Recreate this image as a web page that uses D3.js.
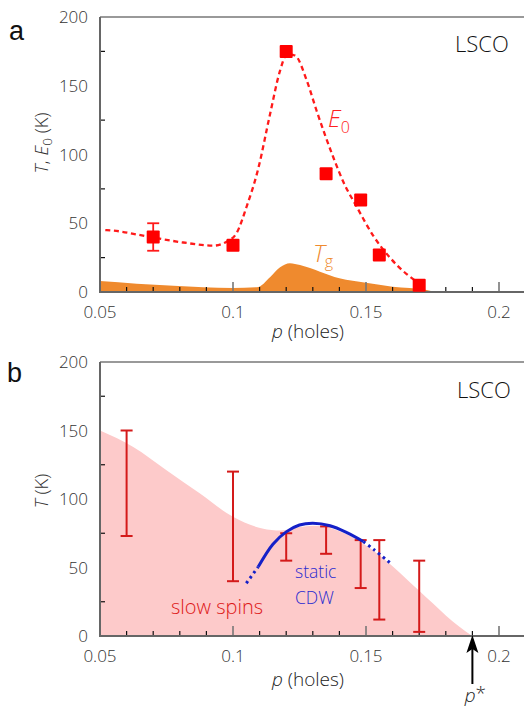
<!DOCTYPE html>
<html><head><meta charset="utf-8">
<script src="https://cdn.jsdelivr.net/npm/d3@7/dist/d3.min.js"></script>
<style>body{margin:0;background:#fff}svg{display:block}text{font-family:"Open Sans",sans-serif;font-weight:300}</style>
</head><body><svg id="c" width="524" height="707"></svg>
<script>
// ---- data ----
const xTicks = [0.05, 0.1, 0.15, 0.2];
const xMinor = [0.06,0.07,0.08,0.09,0.11,0.12,0.13,0.14,0.16,0.17,0.18,0.19];
const yTicks = [0, 50, 100, 150, 200];
const yMinor = [25, 75, 125, 175];

// panel a: E0 points
const e0P = [0.07, 0.10, 0.12, 0.135, 0.148, 0.155, 0.17];
const e0T = [40, 34, 175, 86, 67, 27, 5];
const e0ErrP = [0.07], e0ErrLo = [30], e0ErrHi = [50];
// E0 guide curve
const e0CurveP = [0.052,0.0551,0.0688,0.0813,0.0925,0.0976,0.1014,0.1051,0.1094,0.114,0.1177,0.1203,0.1233,0.1277,0.1314,0.1377,0.1415,0.1465,0.1527,0.159,0.1653,0.1703,0.172];
const e0CurveT = [45,44.6,40,36,33.7,36.6,43,62,89,130,161,173,172,154,132,98,80,62,41,25,13,6,4];
// Tg area
const tgP = [0.05,0.0776,0.1,0.109,0.114,0.1177,0.1214,0.1252,0.1327,0.14,0.15,0.16,0.1728,0.176];
const tgT = [8,4.5,3,3.4,11,18,21,19.6,14.8,10,6.8,3.9,1.5,0];

// panel b: slow spins error bars
const spinP = [0.06, 0.10, 0.12, 0.135, 0.148, 0.155, 0.17];
const spinLo = [73, 40, 55, 60, 35, 12, 3];
const spinHi = [150, 120, 75, 80, 70, 70, 55];
// pink region boundary
const pinkP = [0.05,0.0625,0.075,0.0876,0.1,0.111,0.118,0.125,0.13,0.135,0.14,0.145,0.15,0.155,0.16,0.165,0.17,0.175,0.18,0.185,0.19];
const pinkT = [150,138,121,104,87,78.5,77,79.5,80.5,79.5,76.5,72,66,59,51,42,33,24,15,7,0];
// static CDW curve
const cdwP = [0.105,0.1095,0.115,0.12,0.125,0.13,0.1365,0.1428,0.149,0.153,0.159];
const cdwT = [38.5,50.5,67,76,81,82.3,80.5,75.5,69,63,53.5];
const cdwSolid = [0.1095, 0.149];
const pStar = 0.19;

// ---- drawing ----
const svg = d3.select("#c");
const x = d3.scaleLinear().domain([0.05, 0.21]).range([100, 525.6]);

function panel(top, bottom) {
  const y = d3.scaleLinear().domain([0, 200]).range([bottom, top]);
  const g = svg.append("g");
  return {y, g};
}

function axes(P, labelDy) {
  const {y, g} = P;
  const y0 = y(0), yT = y(200);
  g.selectAll(".yl").data(yTicks).join("text")
    .attr("x", 88).attr("y", d => y(d)).attr("dy", "0.36em")
    .attr("text-anchor", "end").attr("font-size", 17).attr("fill", "#333").text(d => d);
  g.selectAll(".ym").data(yMinor).join("line")
    .attr("x1", 100).attr("x2", 105).attr("y1", d => y(d)).attr("y2", d => y(d))
    .attr("stroke", "#111").attr("stroke-width", 1.2);
  g.selectAll(".xm").data(xMinor).join("line")
    .attr("x1", d => x(d)).attr("x2", d => x(d)).attr("y1", y0).attr("y2", y0 - 5)
    .attr("stroke", "#111").attr("stroke-width", 1.2);
  g.selectAll(".xM").data(xTicks).join("line")
    .attr("x1", d => x(d)).attr("x2", d => x(d)).attr("y1", y0).attr("y2", y0 - 10)
    .attr("stroke", "#777").attr("stroke-width", 1.6);
  g.selectAll(".xl").data(xTicks).join("text")
    .attr("x", d => x(d)).attr("y", y0 + 26).attr("text-anchor", "middle")
    .attr("font-size", 17).attr("fill", "#333").text(d => d);
  g.append("line").attr("x1", 100).attr("x2", 524).attr("y1", y0).attr("y2", y0).attr("stroke", "#666").attr("stroke-width", 2);
  g.append("line").attr("x1", 100).attr("x2", 524).attr("y1", yT).attr("y2", yT).attr("stroke", "#777").attr("stroke-width", 1.6);
  g.append("line").attr("x1", 100).attr("x2", 100).attr("y1", yT).attr("y2", y0 + 1).attr("stroke", "#666").attr("stroke-width", 2);
  const t = g.append("text").attr("x", 308).attr("y", y0 + labelDy).attr("text-anchor", "middle")
    .attr("font-size", 19).attr("fill", "#222");
  t.append("tspan").attr("font-style", "italic").text("p");
  t.append("tspan").text(" (holes)");
}

// ===== Panel a =====
const A = panel(17, 292);
{
  const {y, g} = A;
  const tgData = tgP.map((p, i) => [p, tgT[i]]);
  g.append("path").datum(tgData)
    .attr("d", d3.area().x(d => x(d[0])).y0(y(0)).y1(d => y(d[1])).curve(d3.curveMonotoneX))
    .attr("fill", "#ef8a2e");
  const cd = e0CurveP.map((p, i) => [p, e0CurveT[i]]);
  g.append("path").datum(cd)
    .attr("d", d3.line().x(d => x(d[0])).y(d => y(d[1])).curve(d3.curveMonotoneX))
    .attr("fill", "none").attr("stroke", "#ff1a1a").attr("stroke-width", 2.3).attr("stroke-dasharray", "5,3.6");
  axes(A, 46);
  e0ErrP.forEach((p, i) => {
    const eg = g.append("g").attr("stroke", "#ff1a1a").attr("stroke-width", 1.8);
    eg.append("line").attr("x1", x(p)).attr("x2", x(p)).attr("y1", y(e0ErrLo[i])).attr("y2", y(e0ErrHi[i]));
    [e0ErrLo[i], e0ErrHi[i]].forEach(v => eg.append("line").attr("x1", x(p) - 6).attr("x2", x(p) + 6).attr("y1", y(v)).attr("y2", y(v)));
  });
  g.selectAll(".sq").data(e0P.map((p, i) => [p, e0T[i]])).join("rect")
    .attr("x", d => x(d[0]) - 6.5).attr("y", d => y(d[1]) - 6.5).attr("width", 13).attr("height", 13)
    .attr("rx", 1).attr("fill", "#ff0000");
  const e = g.append("text").attr("x", 328).attr("y", 127).attr("fill", "#ff2020").attr("font-size", 24);
  e.append("tspan").attr("font-style", "italic").text("E");
  e.append("tspan").attr("font-size", 16).attr("dy", 6).text("0");
  const tg = g.append("text").attr("x", 313).attr("y", 262).attr("fill", "#ef8a2e").attr("font-size", 24);
  tg.append("tspan").attr("font-style", "italic").text("T");
  tg.append("tspan").attr("font-size", 16).attr("dy", 5).text("g");
  g.append("text").attr("x", 455).attr("y", 52).attr("font-size", 22).attr("fill", "#111").text("LSCO");
  g.append("text").attr("x", 9).attr("y", 40).attr("font-size", 27).attr("fill", "#111")
    .style("font-family", "'Liberation Sans', Arial, sans-serif").style("font-weight", 400).text("a");
  const yl = g.append("text").attr("transform", "translate(48,143) rotate(-90)").attr("text-anchor", "middle")
    .attr("font-size", 18.5).attr("fill", "#333");
  yl.append("tspan").attr("font-style", "italic").text("T");
  yl.append("tspan").text(", ");
  yl.append("tspan").attr("font-style", "italic").text("E");
  yl.append("tspan").attr("font-size", 13.5).attr("dy", 4).text("0");
  yl.append("tspan").attr("dy", -4).text(" (K)");
}

// ===== Panel b =====
const B = panel(362, 636);
{
  const {y, g} = B;
  const pd = pinkP.map((p, i) => [p, pinkT[i]]);
  g.append("path").datum(pd)
    .attr("d", d3.area().x(d => x(d[0])).y0(y(0)).y1(d => y(d[1])).curve(d3.curveMonotoneX))
    .attr("fill", "#fdcaca");
  axes(B, 50);
  spinP.forEach((p, i) => {
    const eg = g.append("g").attr("stroke", "#d41a1a").attr("stroke-width", 2);
    eg.append("line").attr("x1", x(p)).attr("x2", x(p)).attr("y1", y(spinLo[i])).attr("y2", y(spinHi[i]));
    [spinLo[i], spinHi[i]].forEach(v => eg.append("line").attr("x1", x(p) - 6).attr("x2", x(p) + 6).attr("y1", y(v)).attr("y2", y(v)));
  });
  const cd = cdwP.map((p, i) => [p, cdwT[i]]);
  const line = d3.line().x(d => x(d[0])).y(d => y(d[1])).curve(d3.curveCatmullRom);
  const segs = [
    {d: cd.filter(d => d[0] <= cdwSolid[0]), dash: "2.6,3.6"},
    {d: cd.filter(d => d[0] >= cdwSolid[0] && d[0] <= cdwSolid[1]), dash: null},
    {d: cd.filter(d => d[0] >= cdwSolid[1]), dash: "2.6,3.6"}
  ];
  segs.forEach(s => {
    const path = g.append("path").datum(s.d).attr("d", line).attr("fill", "none")
      .attr("stroke", "#1420c8").attr("stroke-width", 3);
    if (s.dash) path.attr("stroke-dasharray", s.dash);
  });
  g.append("text").attr("x", 171).attr("y", 614).attr("font-size", 20).attr("fill", "#dd1818").text("slow spins");
  g.append("text").attr("x", 295).attr("y", 578).attr("font-size", 17.5).attr("fill", "#2a2ad0").text("static");
  g.append("text").attr("x", 295).attr("y", 604).attr("font-size", 17.5).attr("fill", "#2a2ad0").text("CDW");
  g.append("text").attr("x", 457).attr("y", 398).attr("font-size", 22).attr("fill", "#111").text("LSCO");
  g.append("text").attr("x", 7).attr("y", 382).attr("font-size", 27).attr("fill", "#111")
    .style("font-family", "'Liberation Sans', Arial, sans-serif").style("font-weight", 400).text("b");
  const yl = g.append("text").attr("transform", "translate(48,491) rotate(-90)").attr("text-anchor", "middle")
    .attr("font-size", 18.5).attr("fill", "#333");
  yl.append("tspan").attr("font-style", "italic").text("T");
  yl.append("tspan").text(" (K)");
  const ax = x(pStar), y0 = y(0);
  g.append("line").attr("x1", ax).attr("x2", ax).attr("y1", y0 + 10).attr("y2", y0 + 48).attr("stroke", "#000").attr("stroke-width", 2);
  g.append("path").attr("d", `M${ax},${y0 - 1} L${ax - 6},${y0 + 17} L${ax},${y0 + 13} L${ax + 6},${y0 + 17} Z`).attr("fill", "#000");
  const ps = g.append("text").attr("x", ax + 3).attr("y", 702).attr("text-anchor", "middle").attr("font-size", 19).attr("fill", "#222");
  ps.append("tspan").attr("font-style", "italic").text("p");
  ps.append("tspan").attr("dy", -2).text("*");
}
</script></body></html>
